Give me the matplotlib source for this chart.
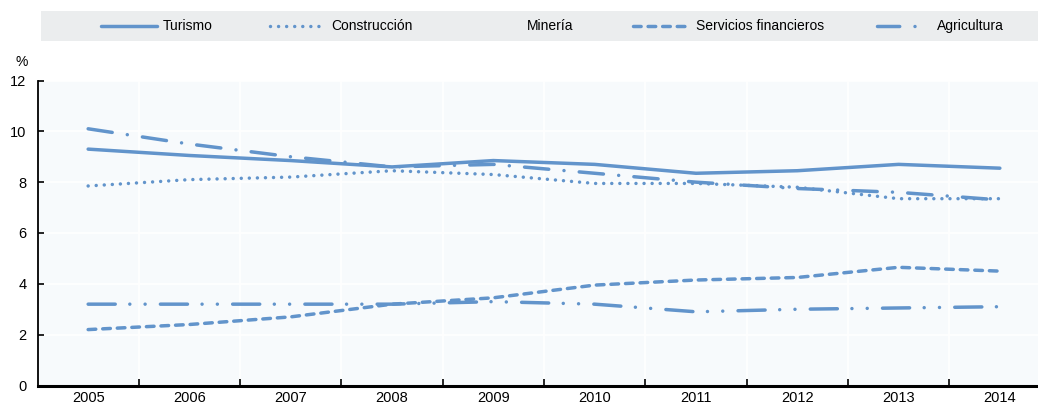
import matplotlib
matplotlib.use("Agg")
import matplotlib.pyplot as plt
from matplotlib.lines import Line2D

plt.rcParams['font.family'] = ['Liberation Sans', 'DejaVu Sans']
plt.rcParams['lines.scale_dashes'] = False

years = [2005, 2006, 2007, 2008, 2009, 2010, 2011, 2012, 2013, 2014]
turismo = [9.3, 9.05, 8.85, 8.6, 8.85, 8.7, 8.35, 8.45, 8.7, 8.55]
construccion = [7.85, 8.1, 8.2, 8.45, 8.3, 7.95, 7.95, 7.8, 7.35, 7.35]
mineria = [10.1, 9.5, 9.0, 8.6, 8.7, 8.35, 8.0, 7.75, 7.6, 7.3]
servicios = [2.2, 2.4, 2.7, 3.2, 3.45, 3.95, 4.15, 4.25, 4.65, 4.5]
agricultura = [3.2, 3.2, 3.2, 3.2, 3.3, 3.2, 2.9, 3.0, 3.05, 3.1]
series_names = ["Turismo", "Construcción", "Minería", "Servicios financieros", "Agricultura"]
yticks = [0, 2, 4, 6, 8, 10, 12]

color = "#6294CB"
lw = 2.5
styles = {
    "Turismo": dict(linestyle="-"),
    "Construcción": dict(linestyle=(0, (0.01, 5.8))),
    "Minería": dict(linestyle=(0, (17.5, 11, 0.01, 11))),
    "Servicios financieros": dict(linestyle=(0, (5.5, 5.0))),
    "Agricultura": dict(linestyle=(0, (19.5, 10.5, 0.01, 11, 0.01, 11))),
}
data = [turismo, construccion, mineria, servicios, agricultura]

W, H = 1038, 407
fig = plt.figure(figsize=(W / 100, H / 100), dpi=100)

left, right, top, bottom = 37.5, 1050.5, 80.5, 385.5
ax = fig.add_axes([left / W, 1 - bottom / H, (right - left) / W, (bottom - top) / H])
ax.set_facecolor("#F7FAFC")
for name, vals in zip(series_names, data):
    ax.plot(years, vals, color=color, lw=lw, dash_capstyle="round",
            solid_capstyle="round", solid_joinstyle="round", zorder=3, **styles[name])

ax.set_xlim(2004.5, 2014.5)
ax.set_ylim(0, 12)
ax.set_yticks(yticks)
ax.set_xticks(years)
ax.set_xticks([y + 0.5 for y in years[:-1]], minor=True)
ax.tick_params(axis="x", which="major", length=0, labelsize=10.5, pad=4)
ax.tick_params(axis="x", which="minor", length=5, width=1.2, direction="in", color="black")
ax.tick_params(axis="y", length=4, width=1.2, direction="in", labelsize=10.5, pad=8)
ax.grid(True, axis="y", color="white", lw=1.2, zorder=0)
ax.grid(True, axis="x", which="minor", color="white", lw=1.2, zorder=0)
for s in ["top", "right"]:
    ax.spines[s].set_visible(False)
ax.spines["left"].set_linewidth(1.3)
ax.spines["bottom"].set_linewidth(2.2)

fig.text(22 / W, 1 - 62 / H, "%", fontsize=10, ha="center", va="center")

lax = fig.add_axes([41 / W, 1 - 41 / H, (1038 - 41) / W, 30 / H])
lax.set_xlim(41, 1038)
lax.set_ylim(0, 30)
lax.set_facecolor("#EBEDEE")
for s in lax.spines.values():
    s.set_visible(False)
lax.set_xticks([])
lax.set_yticks([])
handles = [(101, 157, 163), (270, 322, 331), (None, None, 527), (633, 690, 696), (877, 925, 937)]
for name, (x0, x1, tx) in zip(series_names, handles):
    if x0 is not None:
        ln = Line2D([x0, x1], [15, 15], color=color, lw=lw, dash_capstyle="round",
                    solid_capstyle="round", **styles[name])
        if name == "Agricultura":
            ln = Line2D([x0, x1], [15, 15], color=color, lw=lw, dash_capstyle="round",
                        linestyle=(0, (16, 11, 0.01, 100)))
        lax.add_line(ln)
    lax.text(tx, 15, name, fontsize=10, va="center", ha="left")

fig.savefig("out.png", dpi=100)
